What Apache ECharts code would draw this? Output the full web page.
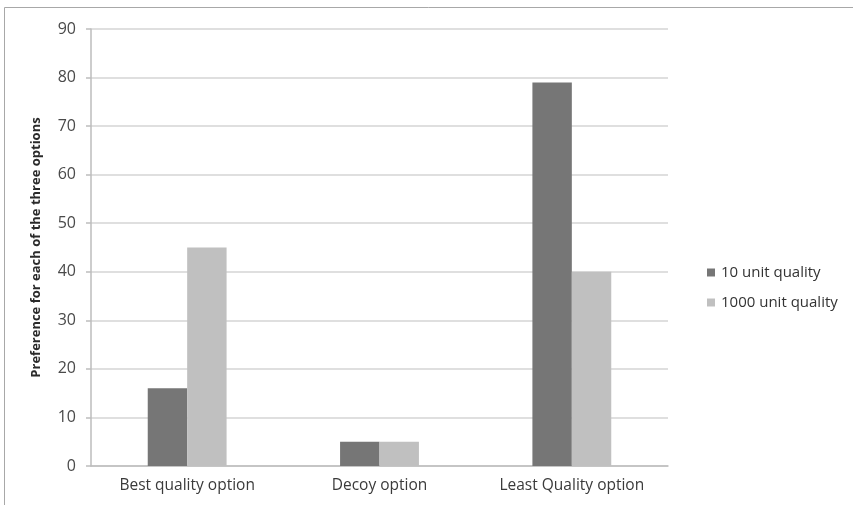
<!DOCTYPE html>
<html>
<head>
<meta charset="utf-8">
<script src="https://cdn.jsdelivr.net/npm/echarts@6/dist/echarts.min.js"></script>
<style>
  html, body { margin: 0; padding: 0; background: #ffffff; }
  #chart { width: 853px; height: 505px; }
</style>
</head>
<body>
<div id="chart"></div>
<script>
// Option categories and preference values for the two quality conditions
const categories = ['Best quality option', 'Decoy option', 'Least Quality option'];
const seriesNames = ['10 unit quality', '1000 unit quality'];
const tenUnit = [16, 5, 79];
const thousandUnit = [45, 5, 40];
const yTicks = { min: 0, max: 90, interval: 10 };

const FONT = '"Open Sans", "Liberation Sans", sans-serif';
const chart = echarts.init(document.getElementById('chart'), null, { renderer: 'canvas' });

chart.setOption({
  backgroundColor: '#ffffff',
  animation: false,
  graphic: [
    {
      type: 'polyline',
      shape: { points: [[4.5, 505], [4.5, 7.5], [853, 7.5]] },
      style: { stroke: '#a8a8a8', lineWidth: 1, fill: null }
    }
  ],
  grid: { left: 91, right: 185, top: 29, bottom: 39 },
  legend: {
    orient: 'vertical',
    left: 702,
    top: 260,
    itemWidth: 8,
    itemHeight: 8,
    itemGap: 15,
    icon: 'rect',
    textStyle: { fontFamily: FONT, fontSize: 15, color: '#333333', padding: [0, 0, 0, 1] },
    data: seriesNames
  },
  xAxis: {
    type: 'category',
    data: categories,
    axisLine: { lineStyle: { color: '#bdbdbd', width: 1.5 } },
    axisTick: { show: false },
    axisLabel: { fontFamily: FONT, fontSize: 15.5, color: '#3a3a3a', margin: 12 }
  },
  yAxis: {
    type: 'value',
    min: yTicks.min,
    max: yTicks.max,
    interval: yTicks.interval,
    name: 'Preference for each of the three options',
    nameLocation: 'middle',
    nameGap: 48,
    nameTextStyle: { fontFamily: FONT, fontSize: 13, fontWeight: 'bold', color: '#2a2a2a' },
    axisLine: { show: true, lineStyle: { color: '#bdbdbd', width: 1.5 } },
    axisTick: { show: true, length: 5, lineStyle: { color: '#bdbdbd', width: 1.5 } },
    axisLabel: { fontFamily: FONT, fontSize: 16, color: '#4a4a4a', margin: 15 },
    splitLine: { lineStyle: { color: '#d4d4d4', width: 1.5 } }
  },
  series: [
    {
      name: seriesNames[0],
      type: 'bar',
      data: tenUnit,
      itemStyle: { color: '#767676' },
      barGap: '0%',
      barCategoryGap: '59%'
    },
    {
      name: seriesNames[1],
      type: 'bar',
      data: thousandUnit,
      itemStyle: { color: '#c0c0c0' },
      barGap: '0%',
      barCategoryGap: '59%'
    }
  ]
});
</script>
</body>
</html>
